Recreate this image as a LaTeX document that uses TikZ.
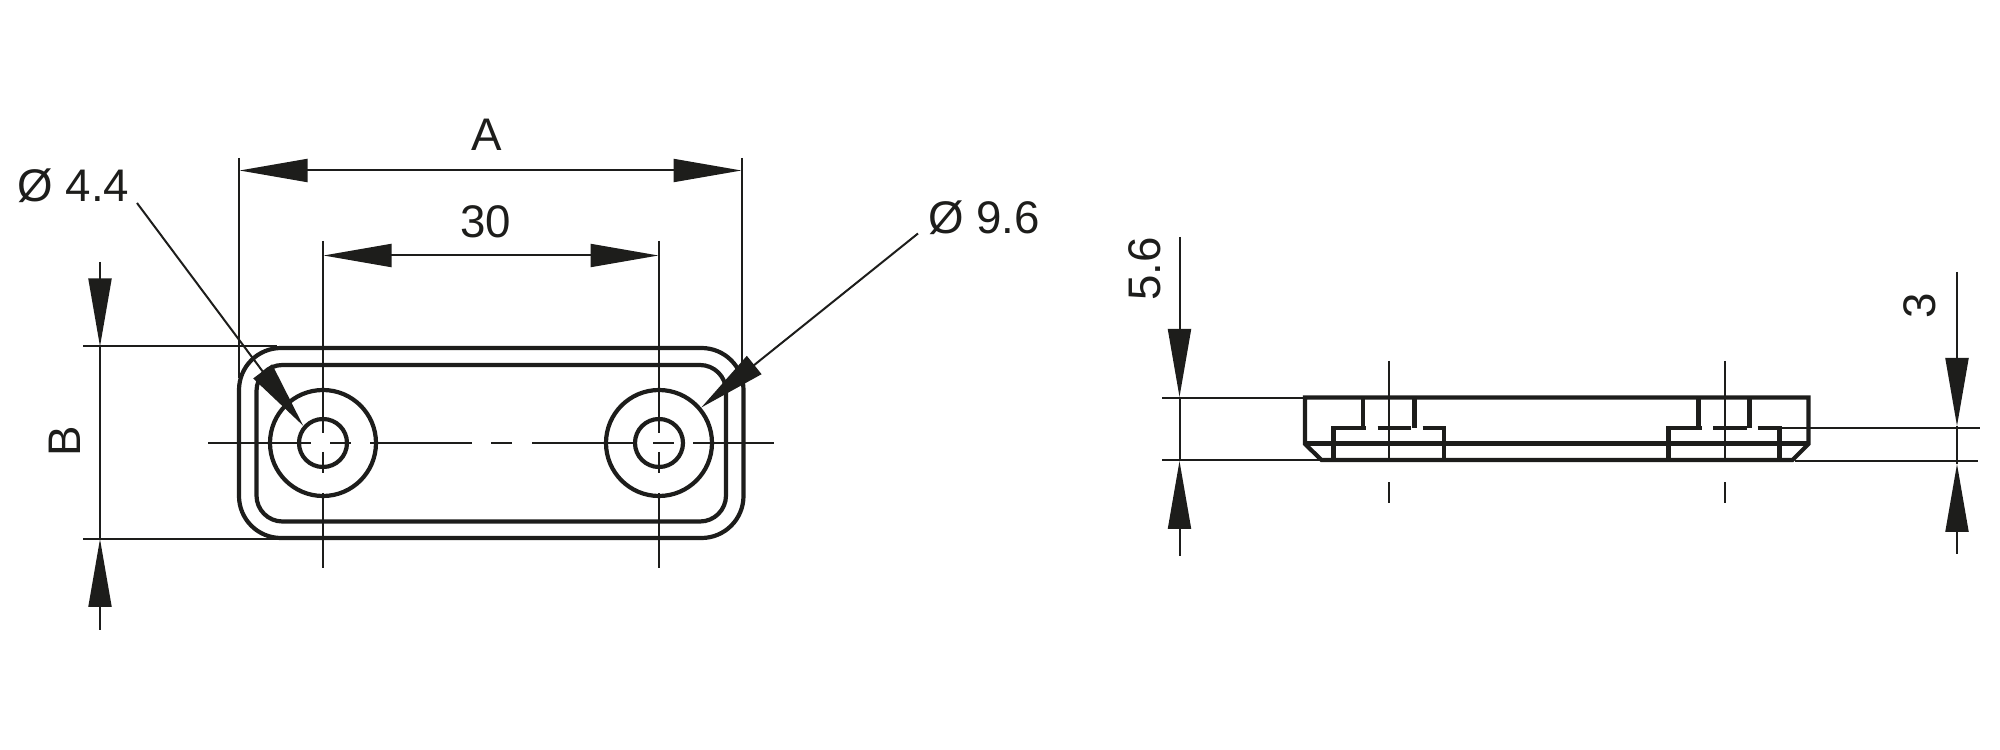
\documentclass[tikz,border=0pt]{standalone}
\usepackage{fontspec}
\setmainfont{Liberation Sans}
\usetikzlibrary{arrows.meta}
\definecolor{ink}{HTML}{1D1D1B}
\begin{document}
\begin{tikzpicture}[x=0.1mm, y=-0.1mm, ink, font=\fontsize{13}{15}\selectfont,
    thinline/.style = {draw=ink, line width=0.2mm},
    thickline/.style = {draw=ink, line width=0.42mm},
    tip/.style = {thinline, -{Triangle[length=6.8mm, width=2.3mm]}},
    twotip/.style = {thinline, {Triangle[length=6.8mm, width=2.3mm]}-{Triangle[length=6.8mm, width=2.3mm]}},
    label/.style = {inner sep=0pt, text=ink},
    outer/.style = {thickline, circle, inner sep=0pt, minimum size=10.6mm},
    inner/.style = {thickline, circle, inner sep=0pt, minimum size=4.8mm}]
    \useasboundingbox (0,0) rectangle (2000,750);

    % front view
    \draw[thickline, rounded corners=4.2mm] (239,348) rectangle (743.5,538);
    \draw[thickline, rounded corners=2.6mm] (256.5,365) rectangle (726,521.5);
    \node[outer] (out1) at (323,443) {};
    \node[inner] (in1) at (323,443) {};
    \node[outer] (out2) at (659,443) {};
    \node[inner] (in2) at (659,443) {};

    % center lines
    \draw[thinline] (208,443) -- (311,443);
    \draw[thinline] (330,443) -- (351,443);
    \draw[thinline] (370,443) -- (472,443);
    \draw[thinline] (491,443) -- (512,443);
    \draw[thinline] (532,443) -- (634,443);
    \draw[thinline] (653,443) -- (674,443);
    \draw[thinline] (693,443) -- (774,443);
    \draw[thinline] (323,241) -- (323,433);
    \draw[thinline] (323,452) -- (323,473);
    \draw[thinline] (323,493) -- (323,568);
    \draw[thinline] (659,241) -- (659,433);
    \draw[thinline] (659,452) -- (659,473);
    \draw[thinline] (659,493) -- (659,568);

    % dimension A
    \coordinate (a1) at (239.5,170.5);
    \coordinate (a2) at (741.5,170.5);
    \draw[thinline] (239,158) -- (239,378);
    \draw[thinline] (741.5,158) -- (741.5,376);
    \draw[twotip] (a1) -- (a2);
    \node[label] (a) at (487,135) {A};

    % dimension 30
    \coordinate (b1) at (323.5,255.5);
    \coordinate (b2) at (658.5,255.5);
    \draw[twotip] (b1) -- (b2);
    \node[label] (b) at (486,222) {30};

    % dimension B
    \coordinate (c1) at (100,262);
    \coordinate (c2) at (100,346.5);
    \coordinate (c3) at (100,539);
    \coordinate (c4) at (100,630);
    \draw[thinline] (83,346.5) -- (277,346.5);
    \draw[thinline] (83,539) -- (277,539);
    \draw[tip] (c1) -- (c2);
    \draw[thinline] (c2) -- (c3);
    \draw[tip] (c4) -- (c3);
    \node[label, rotate=90] (d) at (65,441) {B};

    % diameters
    \node[label] (e) at (73.5,186) {Ø 4.4};
    \node[label] (f) at (984,218) {Ø 9.6};
    \coordinate (e1) at (137,203);
    \coordinate (f1) at (918,233.5);
    \draw[tip] (e1) -- (in1.139);
    \draw[tip] (f1) -- (out2.40);

    % side view
    \draw[thickline, line join=miter] (1305,397.5) -- (1808.5,397.5) -- (1808.5,444) -- (1792.5,460) -- (1321.5,460) -- (1305,444) -- cycle;
    \draw[thickline] (1305,443.5) -- (1808.5,443.5);
    \draw[thickline] (1363,397.5) -- (1363,428);
    \draw[thickline] (1414.5,397.5) -- (1414.5,428);
    \draw[thickline] (1365.5,428) -- (1333.5,428) -- (1333.5,460);
    \draw[thickline] (1377.5,428) -- (1410.5,428);
    \draw[thickline] (1422.5,428) -- (1444,428) -- (1444,460);
    \draw[thickline] (1698.5,397.5) -- (1698.5,428);
    \draw[thickline] (1749.5,397.5) -- (1749.5,428);
    \draw[thickline] (1701.5,428) -- (1668.5,428) -- (1668.5,460);
    \draw[thickline] (1713,428) -- (1746.5,428);
    \draw[thickline] (1757.5,428) -- (1779.5,428) -- (1779.5,460);
    \draw[thinline] (1389,361) -- (1389,462.5);
    \draw[thinline] (1389,482.5) -- (1389,503);
    \draw[thinline] (1724.5,361) -- (1724.5,462.5);
    \draw[thinline] (1724.5,482.5) -- (1724.5,503);

    % dimension 5.6
    \coordinate (g1) at (1179.5,237);
    \coordinate (g2) at (1179.5,397);
    \coordinate (g3) at (1179.5,461);
    \coordinate (g4) at (1179.5,556);
    \draw[thinline] (1162,398) -- (1305,398);
    \draw[thinline] (1162,460) -- (1322,460);
    \draw[tip] (g1) -- (g2);
    \draw[thinline] (g2) -- (g3);
    \draw[tip] (g4) -- (g3);
    \node[label, rotate=90] (g) at (1145,269) {5.6};

    % dimension 3
    \coordinate (h1) at (1957,272);
    \coordinate (h2) at (1957,426);
    \coordinate (h3) at (1957,464);
    \coordinate (h4) at (1957,554);
    \draw[thinline] (1780,428) -- (1980,428);
    \draw[thinline] (1795,461.5) -- (1978,461.5);
    \draw[tip] (h1) -- (h2);
    \draw[thinline] (h2) -- (h3);
    \draw[tip] (h4) -- (h3);
    \node[label, rotate=90] (h) at (1920,306) {3};
\end{tikzpicture}
\end{document}
